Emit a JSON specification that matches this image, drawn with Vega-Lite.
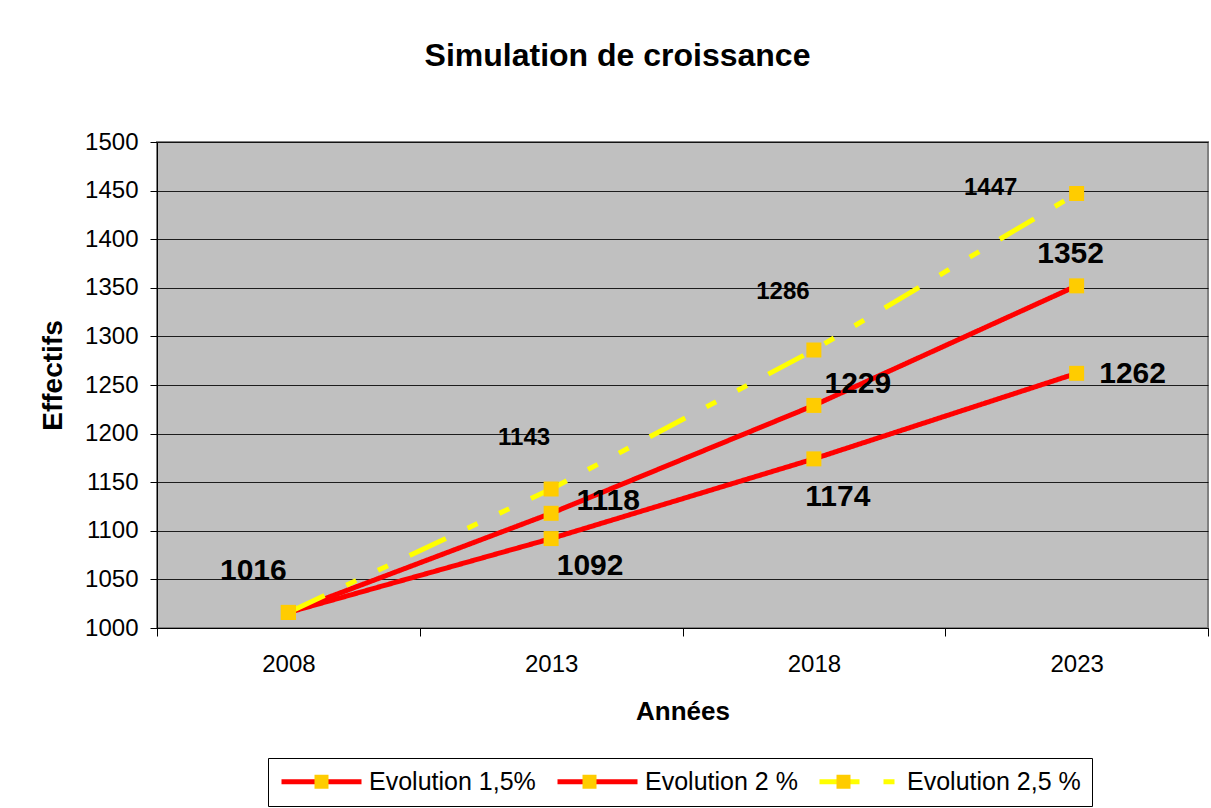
{
  "$schema": "https://vega.github.io/schema/vega-lite/v6.json",
  "autosize": {"type": "none"},
  "padding": {"left": 157, "top": 142, "right": 3, "bottom": 180},
  "width": 1051,
  "height": 486,
  "background": "white",
  "title": {
    "text": "Simulation de croissance",
    "fontSize": 32,
    "fontWeight": "bold",
    "font": "Liberation Sans",
    "color": "black",
    "anchor": "middle",
    "baseline": "middle",
    "dx": -65,
    "offset": 42
  },
  "data": {
    "values": [
      {"annee": "2008", "serie": "Evolution 1,5%", "effectif": 1016},
      {"annee": "2013", "serie": "Evolution 1,5%", "effectif": 1092},
      {"annee": "2018", "serie": "Evolution 1,5%", "effectif": 1174},
      {"annee": "2023", "serie": "Evolution 1,5%", "effectif": 1262},
      {"annee": "2008", "serie": "Evolution 2 %", "effectif": 1016},
      {"annee": "2013", "serie": "Evolution 2 %", "effectif": 1118},
      {"annee": "2018", "serie": "Evolution 2 %", "effectif": 1229},
      {"annee": "2023", "serie": "Evolution 2 %", "effectif": 1352},
      {"annee": "2008", "serie": "Evolution 2,5 %", "effectif": 1016},
      {"annee": "2013", "serie": "Evolution 2,5 %", "effectif": 1143},
      {"annee": "2018", "serie": "Evolution 2,5 %", "effectif": 1286},
      {"annee": "2023", "serie": "Evolution 2,5 %", "effectif": 1447}
    ]
  },
  "encoding": {
    "x": {
      "field": "annee",
      "type": "ordinal",
      "scale": {"paddingInner": 0, "paddingOuter": 0},
      "axis": {
        "title": "Années",
        "titleFontSize": 26,
        "titleFontWeight": "bold",
        "titlePadding": 22,
        "labelAngle": 0,
        "labelFontSize": 24,
        "labelPadding": 16,
        "tickBand": "extent",
        "tickSize": 8,
        "grid": false
      }
    },
    "y": {
      "field": "effectif",
      "type": "quantitative",
      "scale": {"domain": [1000, 1500], "zero": false, "nice": false},
      "axis": {
        "title": "Effectifs",
        "titleFontSize": 28,
        "titleFontWeight": "bold",
        "titlePadding": 17,
        "titleY": 233,
        "format": "d",
        "values": [1000, 1050, 1100, 1150, 1200, 1250, 1300, 1350, 1400, 1450, 1500],
        "labelFontSize": 24,
        "labelPadding": 12,
        "tickSize": 7,
        "grid": true
      }
    }
  },
  "layer": [
    {
      "mark": {"type": "line", "strokeWidth": 5},
      "encoding": {
        "stroke": {
          "field": "serie",
          "type": "nominal",
          "scale": {
            "domain": ["Evolution 1,5%", "Evolution 2 %", "Evolution 2,5 %"],
            "range": ["#FF0000", "#FF0000", "#FFFF00"]
          },
          "legend": {
            "title": null,
            "orient": "none",
            "legendX": 111,
            "legendY": 616,
            "direction": "horizontal",
            "symbolType": "M-4,0H4",
            "symbolSize": 400,
            "symbolStrokeWidth": 5,
            "symbolOffset": 30,
            "labelFontSize": 25,
            "labelLimit": 400,
            "labelFont": "Liberation Sans",
            "labelColor": "black",
            "labelOffset": 35,
            "columnPadding": 11,
            "padding": 11,
            "strokeColor": "black"
          }
        },
        "strokeDash": {
          "field": "serie",
          "type": "nominal",
          "scale": {
            "domain": ["Evolution 1,5%", "Evolution 2 %", "Evolution 2,5 %"],
            "range": [[1, 0], [1, 0], [40, 24, 11, 24, 11, 24]]
          },
          "legend": {
            "title": null,
            "orient": "none",
            "legendX": 111,
            "legendY": 616,
            "direction": "horizontal",
            "symbolType": "M-4,0H4",
            "symbolSize": 400,
            "symbolStrokeWidth": 5,
            "symbolOffset": 30,
            "labelFontSize": 25,
            "labelLimit": 400,
            "labelFont": "Liberation Sans",
            "labelColor": "black",
            "labelOffset": 35,
            "columnPadding": 11,
            "padding": 11,
            "strokeColor": "black"
          }
        }
      }
    },
    {
      "mark": {"type": "point", "shape": "square", "filled": true, "size": 225, "opacity": 1},
      "encoding": {
        "fill": {
          "field": "serie",
          "type": "nominal",
          "scale": {"range": ["#FFCC00", "#FFCC00", "#FFCC00"]},
          "legend": {
            "title": null,
            "orient": "none",
            "legendX": 111,
            "legendY": 616,
            "direction": "horizontal",
            "symbolType": "M-0.7,-0.7H0.7V0.7H-0.7Z",
            "symbolSize": 400,
            "symbolStrokeWidth": 5,
            "symbolStrokeColor": "transparent",
            "symbolOffset": 30,
            "symbolOpacity": 1,
            "labelFontSize": 25,
            "labelLimit": 400,
            "labelFont": "Liberation Sans",
            "labelOpacity": 0,
            "labelOffset": 35,
            "columnPadding": 11,
            "padding": 11
          }
        }
      }
    },
    {
      "transform": [{"filter": "datum.serie === 'Evolution 1,5%' && datum.annee === '2008'"}],
      "mark": {"type": "text", "fontSize": 30, "fontWeight": "bold", "font": "Liberation Sans", "baseline": "middle", "dx": -35, "dy": -41},
      "encoding": {"text": {"field": "effectif"}}
    },
    {
      "transform": [{"filter": "datum.serie === 'Evolution 1,5%' && datum.annee === '2013'"}],
      "mark": {"type": "text", "fontSize": 30, "fontWeight": "bold", "font": "Liberation Sans", "baseline": "middle", "dx": 39, "dy": 27},
      "encoding": {"text": {"field": "effectif"}}
    },
    {
      "transform": [{"filter": "datum.serie === 'Evolution 1,5%' && datum.annee === '2018'"}],
      "mark": {"type": "text", "fontSize": 30, "fontWeight": "bold", "font": "Liberation Sans", "baseline": "middle", "dx": 24, "dy": 38},
      "encoding": {"text": {"field": "effectif"}}
    },
    {
      "transform": [{"filter": "datum.serie === 'Evolution 1,5%' && datum.annee === '2023'"}],
      "mark": {"type": "text", "fontSize": 30, "fontWeight": "bold", "font": "Liberation Sans", "baseline": "middle", "dx": 56, "dy": 1},
      "encoding": {"text": {"field": "effectif"}}
    },
    {
      "transform": [{"filter": "datum.serie === 'Evolution 2 %' && datum.annee === '2013'"}],
      "mark": {"type": "text", "fontSize": 30, "fontWeight": "bold", "font": "Liberation Sans", "baseline": "middle", "dx": 57, "dy": -12},
      "encoding": {"text": {"field": "effectif"}}
    },
    {
      "transform": [{"filter": "datum.serie === 'Evolution 2 %' && datum.annee === '2018'"}],
      "mark": {"type": "text", "fontSize": 30, "fontWeight": "bold", "font": "Liberation Sans", "baseline": "middle", "dx": 44, "dy": -21},
      "encoding": {"text": {"field": "effectif"}}
    },
    {
      "transform": [{"filter": "datum.serie === 'Evolution 2 %' && datum.annee === '2023'"}],
      "mark": {"type": "text", "fontSize": 30, "fontWeight": "bold", "font": "Liberation Sans", "baseline": "middle", "dx": -6, "dy": -32},
      "encoding": {"text": {"field": "effectif"}}
    },
    {
      "transform": [{"filter": "datum.serie === 'Evolution 2,5 %' && datum.annee === '2013'"}],
      "mark": {"type": "text", "fontSize": 24, "fontWeight": "bold", "font": "Liberation Sans", "baseline": "middle", "dx": -27, "dy": -51},
      "encoding": {"text": {"field": "effectif"}}
    },
    {
      "transform": [{"filter": "datum.serie === 'Evolution 2,5 %' && datum.annee === '2018'"}],
      "mark": {"type": "text", "fontSize": 24, "fontWeight": "bold", "font": "Liberation Sans", "baseline": "middle", "dx": -31, "dy": -58},
      "encoding": {"text": {"field": "effectif"}}
    },
    {
      "transform": [{"filter": "datum.serie === 'Evolution 2,5 %' && datum.annee === '2023'"}],
      "mark": {"type": "text", "fontSize": 24, "fontWeight": "bold", "font": "Liberation Sans", "baseline": "middle", "dx": -86, "dy": -6},
      "encoding": {"text": {"field": "effectif"}}
    }
  ],
  "config": {
    "font": "Liberation Sans",
    "view": {"fill": "#C0C0C0", "stroke": "#808080", "strokeWidth": 2},
    "axis": {
      "domainColor": "black",
      "domainWidth": 1,
      "tickColor": "black",
      "tickWidth": 1,
      "gridColor": "black",
      "gridWidth": 1,
      "gridOpacity": 0.85,
      "labelColor": "black",
      "titleColor": "black",
      "labelFont": "Liberation Sans",
      "titleFont": "Liberation Sans"
    },
    "text": {"color": "black"}
  }
}
